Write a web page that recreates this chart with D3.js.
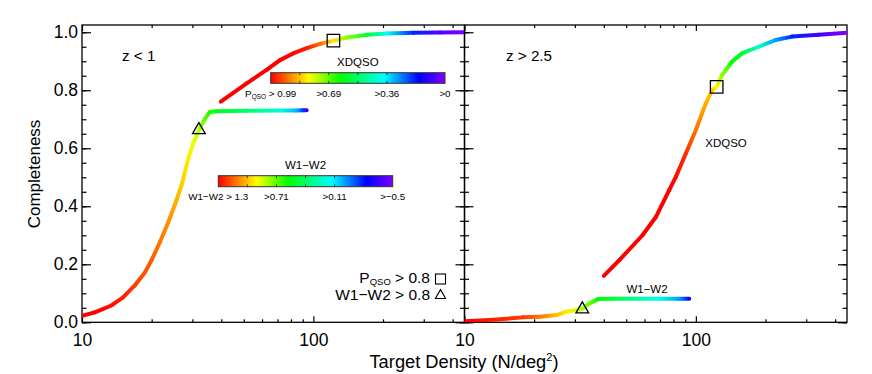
<!DOCTYPE html>
<html>
<head>
<meta charset="utf-8">
<script src="https://cdn.jsdelivr.net/npm/d3@7"></script>
<style>
  body { margin: 0; background: #fff; }
  text { font-family: "Liberation Sans", Arial, sans-serif; }
</style>
</head>
<body>
<div id="chart"></div>
<script>
// completeness vs target density, z<1 (left) and z>2.5 (right)

// z < 1, XDQSO curve
var lowXdDens = [39.8, 51.5, 62.8, 71.7, 81.7, 93.6, 106.9, 122.1, 139.5, 170.4, 207.9, 271, 353, 450]
var lowXdComp = [0.761, 0.824, 0.870, 0.904, 0.927, 0.945, 0.960, 0.971, 0.982, 0.991, 0.996, 0.998, 0.999, 1.0]
var lowXdCut  = [0.999, 0.998, 0.996, 0.993, 0.985, 0.97, 0.91, 0.81, 0.72, 0.574, 0.396, 0.194, 0.054, 0.0]

// z < 1, W1-W2 curve
var lowWDens = [10, 11.35, 13.4, 15.05, 16.9, 18.7, 19.95, 21.7, 23.6, 25.6, 26.9, 28.8, 30.2, 32.4, 34.0, 35.7, 38.2, 51.1, 71.8, 84.2, 90.2, 93.5]
var lowWComp = [0.022, 0.034, 0.058, 0.086, 0.127, 0.172, 0.213, 0.276, 0.345, 0.420, 0.471, 0.564, 0.616, 0.671, 0.702, 0.725, 0.728, 0.729, 0.730, 0.730, 0.731, 0.731]
var lowWCut  = [1.6, 1.4, 1.28, 1.25, 1.21, 1.17, 1.16, 1.12, 1.08, 1.03, 0.99, 0.94, 0.89, 0.80, 0.71, 0.62, 0.54, 0.40, 0.22, 0.04, -0.14, -0.32]

// z > 2.5, XDQSO curve
var hiXdDens = [40, 46.8, 58.9, 67.3, 76.7, 82, 90.6, 100, 110.4, 117.8, 123, 130, 143.6, 158.7, 187, 220.8, 260.6, 339, 450]
var hiXdComp = [0.160, 0.215, 0.301, 0.364, 0.456, 0.502, 0.583, 0.663, 0.755, 0.801, 0.812, 0.853, 0.899, 0.928, 0.950, 0.973, 0.985, 0.991, 0.998]
var hiXdCut  = [0.999, 0.998, 0.997, 0.996, 0.994, 0.981, 0.954, 0.90, 0.855, 0.83, 0.80, 0.72, 0.624, 0.575, 0.426, 0.301, 0.194, 0.076, 0.0]

// z > 2.5, W1-W2 curve
var hiWDens = [10, 12.9, 17.9, 21.2, 25.0, 27.6, 30.5, 32.5, 34.8, 37.8, 43.8, 57, 69.5, 84.7, 93.6]
var hiWComp = [0.004, 0.008, 0.017, 0.019, 0.025, 0.037, 0.042, 0.048, 0.066, 0.080, 0.081, 0.081, 0.081, 0.081, 0.081]
var hiWCut  = [1.4, 1.26, 1.21, 1.12, 1.01, 0.94, 0.87, 0.80, 0.71, 0.58, 0.49, 0.31, 0.17, 0.0, -0.23]

// markers: P_QSO > 0.8 (square), W1-W2 > 0.8 (triangle)
var lowSquare = [122.1, 0.971], lowTriangle = [32.0, 0.663]
var hiSquare = [123, 0.812], hiTriangle = [32.3, 0.045]

// colour bar labels
var xdBarVals = [0.99, 0.69, 0.36, 0]
var wBarVals = [1.3, 0.71, 0.11, -0.5]
var xdBarLabels = [" > 0.99", ">0.69", ">0.36", ">0"]
var wBarLabels = ["W1\u2212W2 > 1.3", ">0.71", ">0.11", ">\u22120.5"]

// axis ticks
var yMajor = [0, 0.2, 0.4, 0.6, 0.8, 1.0]
var yMinor = d3.range(0, 1.001, 0.05)
var xMajor = [10, 100]
var xMinor = [20, 30, 40, 50, 60, 70, 80, 90, 200, 300, 400]

var W = 872, H = 374
var panelW = 382.5, panelH = 297.3, panelTop = 25
var panelX = [82, 464.5]

var svg = d3.select("#chart").append("svg")
  .attr("width", W).attr("height", H)
var defs = svg.append("defs")

// IDL-ish rainbow
var rainStops = [[0, "#ff0000"], [0.22, "#ffff00"], [0.40, "#00ff00"], [0.65, "#00ffff"], [0.85, "#0000ff"], [1, "#8000ff"]]
var rainbow = d3.scaleLinear()
  .domain(rainStops.map(function(d) { return d[0] }))
  .range(rainStops.map(function(d) { return d[1] }))
  .clamp(true)

var xdPos = d3.scaleLinear().domain(xdBarVals).range([0, 1/3, 2/3, 1]).clamp(true)
var wPos = d3.scaleLinear().domain(wBarVals).range([0, 1/3, 2/3, 1]).clamp(true)

var x = d3.scaleLog().domain([10, 450]).range([0, panelW])
var y = d3.scaleLinear().domain([0, 1.025]).range([panelH, 0])

var segCount = 0
function drawCurve(g, dens, comp, cut, pos) {
  for (var i = 0; i < dens.length - 1; i++) {
    var x1 = x(dens[i]), y1 = y(comp[i]), x2 = x(dens[i+1]), y2 = y(comp[i+1])
    var id = "seg" + (segCount++)
    var gr = defs.append("linearGradient").attr("id", id)
      .attr("gradientUnits", "userSpaceOnUse")
      .attr("x1", x1).attr("y1", y1).attr("x2", x2).attr("y2", y2)
    gr.append("stop").attr("offset", 0).attr("stop-color", rainbow(pos(cut[i])))
    gr.append("stop").attr("offset", 1).attr("stop-color", rainbow(pos(cut[i+1])))
    g.append("line")
      .attr("x1", x1).attr("y1", y1).attr("x2", x2).attr("y2", y2)
      .attr("stroke", "url(#" + id + ")")
      .attr("stroke-width", 4)
      .attr("stroke-linecap", "round")
  }
}

function marker(g, type, p, size) {
  g.append("path")
    .attr("transform", "translate(" + x(p[0]) + "," + y(p[1]) + ")")
    .attr("d", d3.symbol().type(type).size(size)())
    .attr("fill", "none").attr("stroke", "#000").attr("stroke-width", 1.3)
}

function fontFix(sel, size) {
  sel.attr("font-family", null).attr("font-size", null)
  sel.selectAll("text").style("font-size", size + "px").attr("fill", "#000")
  sel.select(".domain").remove()
  sel.selectAll("line").attr("stroke", "#000").attr("stroke-width", 1.2)
}

function drawPanel(px, showY) {
  var g = svg.append("g").attr("transform", "translate(" + px + "," + panelTop + ")")

  // ticks, inward on all four sides
  g.append("g").attr("transform", "translate(0," + panelH + ")")
    .call(d3.axisBottom(x).tickValues(xMajor).tickSize(-6).tickPadding(11.5).tickFormat(d3.format("d")))
    .call(fontFix, 17.5)
  g.append("g").attr("transform", "translate(0," + panelH + ")")
    .call(d3.axisBottom(x).tickValues(xMinor).tickSize(-3).tickFormat(""))
    .call(fontFix, 10)
  g.append("g")
    .call(d3.axisTop(x).tickValues(xMajor).tickSize(-6).tickFormat(""))
    .call(fontFix, 10)
  g.append("g")
    .call(d3.axisTop(x).tickValues(xMinor).tickSize(-3).tickFormat(""))
    .call(fontFix, 10)

  g.append("g")
    .call(d3.axisLeft(y).tickValues(yMajor).tickSize(-9).tickPadding(4)
      .tickFormat(showY ? d3.format(".1f") : ""))
    .call(fontFix, 17.5)
  g.append("g")
    .call(d3.axisLeft(y).tickValues(yMinor).tickSize(-4.5).tickFormat(""))
    .call(fontFix, 10)
  g.append("g").attr("transform", "translate(" + panelW + ",0)")
    .call(d3.axisRight(y).tickValues(yMajor).tickSize(-9).tickFormat(""))
    .call(fontFix, 10)
  g.append("g").attr("transform", "translate(" + panelW + ",0)")
    .call(d3.axisRight(y).tickValues(yMinor).tickSize(-4.5).tickFormat(""))
    .call(fontFix, 10)

  g.append("rect")
    .attr("width", panelW).attr("height", panelH)
    .attr("fill", "none").attr("stroke", "#000").attr("stroke-width", 1.3)

  var cid = "clip" + Math.round(px)
  defs.append("clipPath").attr("id", cid).append("rect").attr("width", panelW).attr("height", panelH)
  var plot = g.append("g").attr("clip-path", "url(#" + cid + ")")
  return { g: g, plot: plot }
}

function colorBar(x0, y0, w, h, title, labels, first) {
  var id = "bar" + title.length
  var gr = defs.append("linearGradient").attr("id", id)
  rainStops.forEach(function(s) {
    gr.append("stop").attr("offset", s[0]).attr("stop-color", s[1])
  })
  var g = svg.append("g").attr("transform", "translate(" + x0 + "," + y0 + ")")
  g.append("rect").attr("width", w).attr("height", h)
    .attr("fill", "url(#" + id + ")").attr("stroke", "#333").attr("stroke-width", 1)
  var bx = d3.scaleLinear().domain([0, 6]).range([0, w])
  d3.range(1, 6).forEach(function(i) {
    g.append("line").attr("x1", bx(i)).attr("x2", bx(i)).attr("y1", 0).attr("y2", 2.5).attr("stroke", "#222").attr("stroke-width", 0.8)
    g.append("line").attr("x1", bx(i)).attr("x2", bx(i)).attr("y1", h).attr("y2", h - 2.5).attr("stroke", "#222").attr("stroke-width", 0.8)
  })
  g.append("text").attr("x", w / 2).attr("y", -7)
    .attr("text-anchor", "middle").style("font-size", "11.5px").text(title)
  var lx = d3.scaleLinear().domain([0, 3]).range([0, w])
  labels.forEach(function(l, i) {
    var t = g.append("text").attr("x", lx(i)).attr("y", h + 13.5)
      .attr("text-anchor", "middle").style("font-size", "9.8px")
      .style("white-space", "pre")
    if (i == 0 && first) {
      t.append("tspan").text("P")
      t.append("tspan").attr("dy", 2).style("font-size", "6.5px").text("QSO")
      t.append("tspan").attr("dy", -2).text(l)
    } else {
      t.text(l)
    }
  })
}

// left panel: z < 1
var left = drawPanel(panelX[0], true)
drawCurve(left.plot, lowWDens, lowWComp, lowWCut, wPos)
drawCurve(left.plot, lowXdDens, lowXdComp, lowXdCut, xdPos)
marker(left.g, d3.symbolSquare, lowSquare, 156)
marker(left.g, d3.symbolTriangle, lowTriangle, 70)
left.g.append("text").attr("x", 40).attr("y", 36).style("font-size", "15.2px").text("z < 1")

// right panel: z > 2.5
var right = drawPanel(panelX[1], false)
drawCurve(right.plot, hiWDens, hiWComp, hiWCut, wPos)
drawCurve(right.plot, hiXdDens, hiXdComp, hiXdCut, xdPos)
marker(right.g, d3.symbolSquare, hiSquare, 156)
marker(right.g, d3.symbolTriangle, hiTriangle, 70)
right.g.append("text").attr("x", 41.5).attr("y", 36).style("font-size", "15.2px").text("z > 2.5")
right.g.append("text").attr("x", 261.5).attr("y", 121.5).attr("text-anchor", "middle")
  .style("font-size", "11.5px").text("XDQSO")
right.g.append("text").attr("x", 182.5).attr("y", 267.5).attr("text-anchor", "middle")
  .style("font-size", "11.5px").text("W1\u2212W2")

// colour bars
colorBar(270.7, 72.7, 174.3, 10.6, "XDQSO", xdBarLabels, true)
colorBar(218.3, 175.7, 174.4, 11, "W1\u2212W2", wBarLabels, false)

// legend, bottom right of left panel
var lg = svg.append("g")
var t1 = lg.append("text").attr("x", 430).attr("y", 282.5).attr("text-anchor", "end").style("font-size", "15.5px")
t1.append("tspan").text("P")
t1.append("tspan").attr("dy", 2).style("font-size", "9.5px").text("QSO")
t1.append("tspan").attr("dy", -2).text(" > 0.8")
lg.append("text").attr("x", 430).attr("y", 299.8).attr("text-anchor", "end").style("font-size", "15.5px")
  .text("W1\u2212W2 > 0.8")
lg.append("rect").attr("x", 435.5).attr("y", 274).attr("width", 10).attr("height", 10)
  .attr("fill", "none").attr("stroke", "#000").attr("stroke-width", 1.1)
lg.append("path").attr("transform", "translate(440.5,295.5)")
  .attr("d", d3.symbol().type(d3.symbolTriangle).size(45)())
  .attr("fill", "none").attr("stroke", "#000").attr("stroke-width", 1.1)

// axis titles
svg.append("text")
  .attr("transform", "translate(40,174) rotate(-90)")
  .attr("text-anchor", "middle").style("font-size", "17px")
  .text("Completeness")
var xt = svg.append("text").attr("x", 464).attr("y", 368)
  .attr("text-anchor", "middle").style("font-size", "18.3px")
xt.append("tspan").text("Target Density (N/deg")
xt.append("tspan").attr("dy", -7).style("font-size", "11px").text("2")
xt.append("tspan").attr("dy", 7).text(")")
</script>
</body>
</html>
